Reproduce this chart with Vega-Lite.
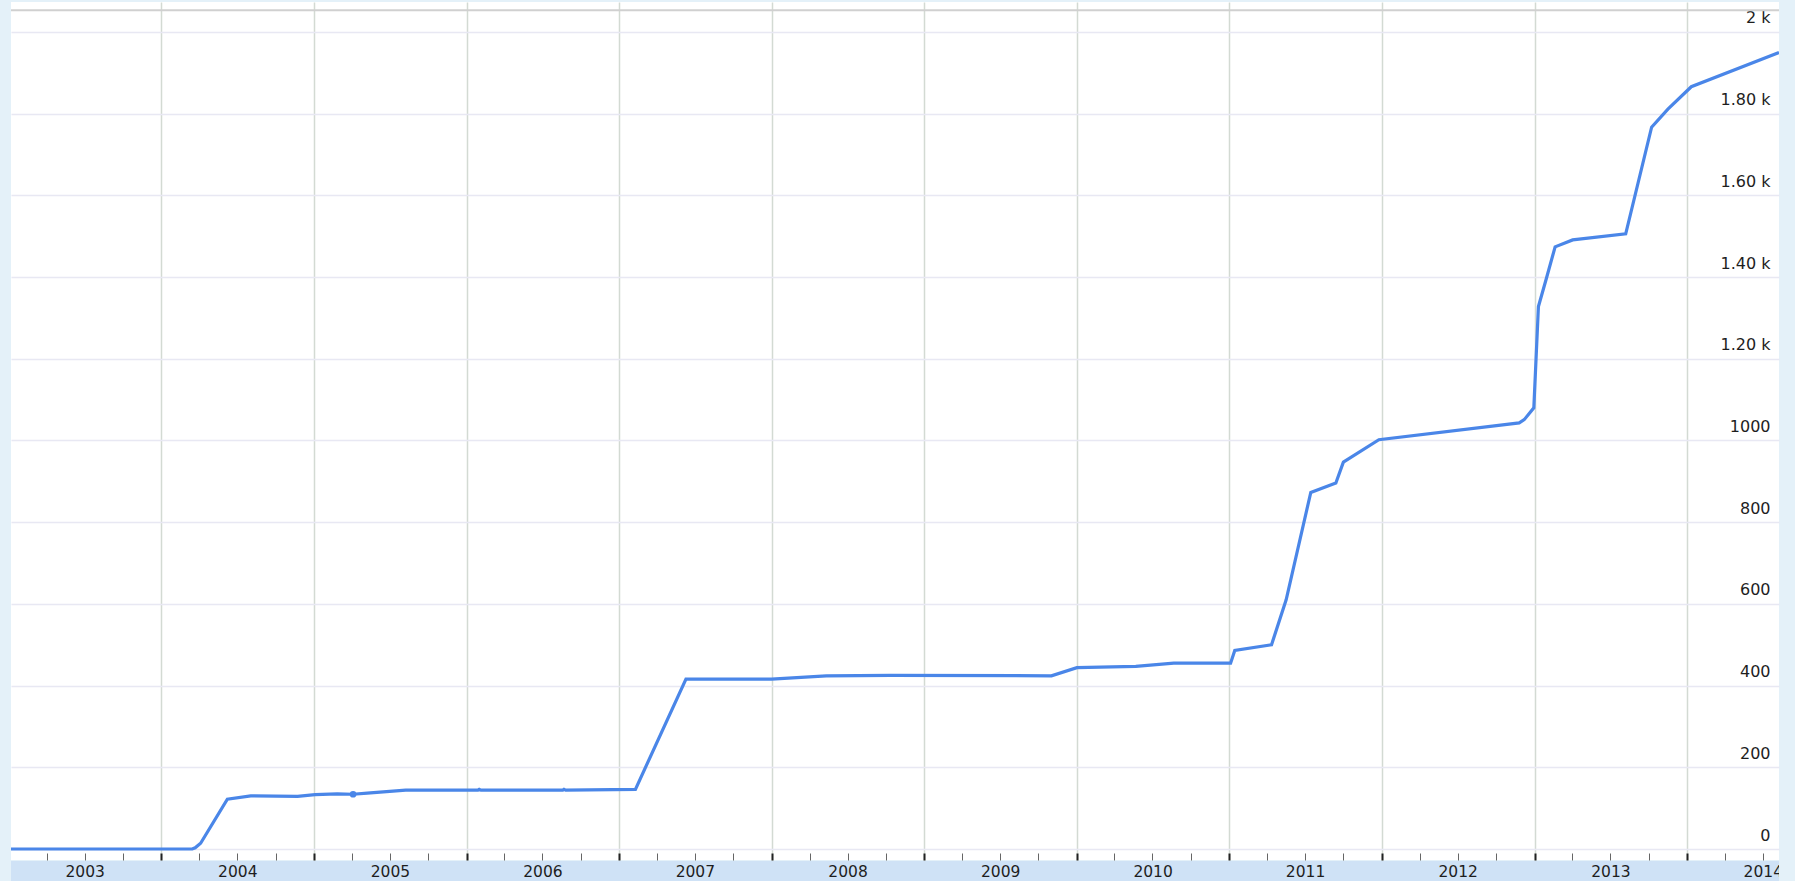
{
  "$schema": "https://vega.github.io/schema/vega-lite/v6.json",
  "background": "#e4f1f9",
  "padding": {"left": 10, "top": 2, "right": 17, "bottom": 0},
  "config": {"view": {"stroke": null}, "font": "DejaVu Sans"},
  "spacing": 0,
  "datasets": {
    "series": [
      {"date": "2003-01-06", "value": 0},
      {"date": "2004-03-15", "value": 0},
      {"date": "2004-03-22", "value": 3},
      {"date": "2004-04-04", "value": 14},
      {"date": "2004-06-07", "value": 122},
      {"date": "2004-08-02", "value": 130},
      {"date": "2004-11-22", "value": 129},
      {"date": "2005-01-03", "value": 133},
      {"date": "2005-02-25", "value": 135},
      {"date": "2005-04-04", "value": 134},
      {"date": "2005-05-08", "value": 137},
      {"date": "2005-08-08", "value": 144},
      {"date": "2006-01-28", "value": 144},
      {"date": "2006-01-31", "value": 146},
      {"date": "2006-02-04", "value": 144},
      {"date": "2006-08-19", "value": 144},
      {"date": "2006-08-22", "value": 146},
      {"date": "2006-08-26", "value": 144},
      {"date": "2007-02-09", "value": 146},
      {"date": "2007-06-10", "value": 416},
      {"date": "2008-01-01", "value": 416},
      {"date": "2008-05-11", "value": 424},
      {"date": "2008-10-11", "value": 425},
      {"date": "2009-11-01", "value": 424},
      {"date": "2010-01-01", "value": 444},
      {"date": "2010-05-22", "value": 447},
      {"date": "2010-08-21", "value": 455},
      {"date": "2011-01-04", "value": 455},
      {"date": "2011-01-14", "value": 486},
      {"date": "2011-04-12", "value": 500},
      {"date": "2011-05-17", "value": 610},
      {"date": "2011-07-15", "value": 873},
      {"date": "2011-09-13", "value": 896},
      {"date": "2011-10-01", "value": 947},
      {"date": "2011-12-25", "value": 1002},
      {"date": "2012-11-25", "value": 1043},
      {"date": "2012-12-07", "value": 1051},
      {"date": "2012-12-30", "value": 1080},
      {"date": "2013-01-10", "value": 1328},
      {"date": "2013-01-28", "value": 1393},
      {"date": "2013-02-19", "value": 1474},
      {"date": "2013-04-02", "value": 1491},
      {"date": "2013-08-07", "value": 1506},
      {"date": "2013-10-08", "value": 1767},
      {"date": "2013-11-16", "value": 1811},
      {"date": "2014-01-11", "value": 1866},
      {"date": "2014-08-09", "value": 1950}
    ],
    "years": [
      {"label": "2003", "start": "2003-01-01"},
      {"label": "2004", "start": "2004-01-01"},
      {"label": "2005", "start": "2005-01-01"},
      {"label": "2006", "start": "2006-01-01"},
      {"label": "2007", "start": "2007-01-01"},
      {"label": "2008", "start": "2008-01-01"},
      {"label": "2009", "start": "2009-01-01"},
      {"label": "2010", "start": "2010-01-01"},
      {"label": "2011", "start": "2011-01-01"},
      {"label": "2012", "start": "2012-01-01"},
      {"label": "2013", "start": "2013-01-01"},
      {"label": "2014", "start": "2014-01-01"}
    ]
  },
  "vconcat": [
    {
      "width": 1768,
      "height": 858,
      "view": {"fill": "white", "stroke": null},
      "layer": [
        {
          "data": {"values": [{}]},
          "mark": {"type": "rule", "color": "#d0d0d0", "strokeWidth": 2},
          "encoding": {"y": {"datum": 2053, "type": "quantitative"}}
        },
        {
          "data": {"name": "series"},
          "mark": {"type": "line", "color": "#4a86e8", "strokeWidth": 3.2, "clip": true},
          "encoding": {
            "x": {
              "field": "date",
              "type": "temporal",
              "scale": {
                "type": "utc",
                "domain": [
                  {"year": 2003, "month": 1, "date": 6, "utc": true},
                  {"year": 2014, "month": 8, "date": 9, "utc": true}
                ]
              },
              "axis": {
                "orient": "bottom",
                "title": null,
                "labels": false,
                "domain": false,
                "tickCount": {"interval": "month", "step": 3},
                "grid": true,
                "gridColor": "#d3dad3",
                "gridWidth": 1.5,
                "gridOpacity": {"condition": {"test": "utcmonth(datum.value) == 0", "value": 1}, "value": 0},
                "ticks": true,
                "tickSize": -7,
                "tickColor": {"condition": {"test": "utcmonth(datum.value) == 0", "value": "#222222"}, "value": "#666666"},
                "tickWidth": {"condition": {"test": "utcmonth(datum.value) == 0", "value": 2}, "value": 1}
              }
            },
            "y": {
              "field": "value",
              "type": "quantitative",
              "scale": {"domain": [-26.9, 2073.4], "nice": false, "zero": false},
              "axis": {
                "orient": "right",
                "title": null,
                "values": [0, 200, 400, 600, 800, 1000, 1200, 1400, 1600, 1800, 2000],
                "labelExpr": "datum.value == 2000 ? '2 k' : (datum.value > 1000 ? format(datum.value / 1000, '.2f') + ' k' : format(datum.value, 'd'))",
                "labelAlign": "right",
                "labelBaseline": "alphabetic",
                "labelPadding": -9,
                "labelOffset": -9,
                "labelFontSize": 16,
                "labelColor": "#1e1e1e",
                "labelOverlap": false,
                "ticks": false,
                "tickSize": 0,
                "domain": false,
                "grid": true,
                "gridColor": "#e8e8f3",
                "gridWidth": 1.5
              }
            }
          }
        },
        {
          "data": {"name": "series"},
          "transform": [{"filter": "utcyear(datum.date) == 2005 && utcmonth(datum.date) == 3 && utcdate(datum.date) == 4"}],
          "mark": {"type": "point", "filled": true, "size": 45, "color": "#4a86e8", "opacity": 1},
          "encoding": {
            "x": {"field": "date", "type": "temporal"},
            "y": {"field": "value", "type": "quantitative"}
          }
        }
      ]
    },
    {
      "width": 1768,
      "height": 21,
      "view": {"fill": "#cfe2f6", "stroke": null},
      "data": {"name": "years"},
      "mark": {"type": "text", "fontSize": 15.5, "color": "#1e1e1e", "baseline": "middle", "align": "center", "clip": true},
      "encoding": {
        "x": {
          "field": "start",
          "type": "temporal",
          "timeUnit": "utcyear",
          "bandPosition": 0.5,
          "scale": {
            "type": "utc",
            "domain": [
              {"year": 2003, "month": 1, "date": 6, "utc": true},
              {"year": 2014, "month": 8, "date": 9, "utc": true}
            ]
          },
          "axis": null
        },
        "text": {"field": "label", "type": "nominal"}
      }
    }
  ]
}
